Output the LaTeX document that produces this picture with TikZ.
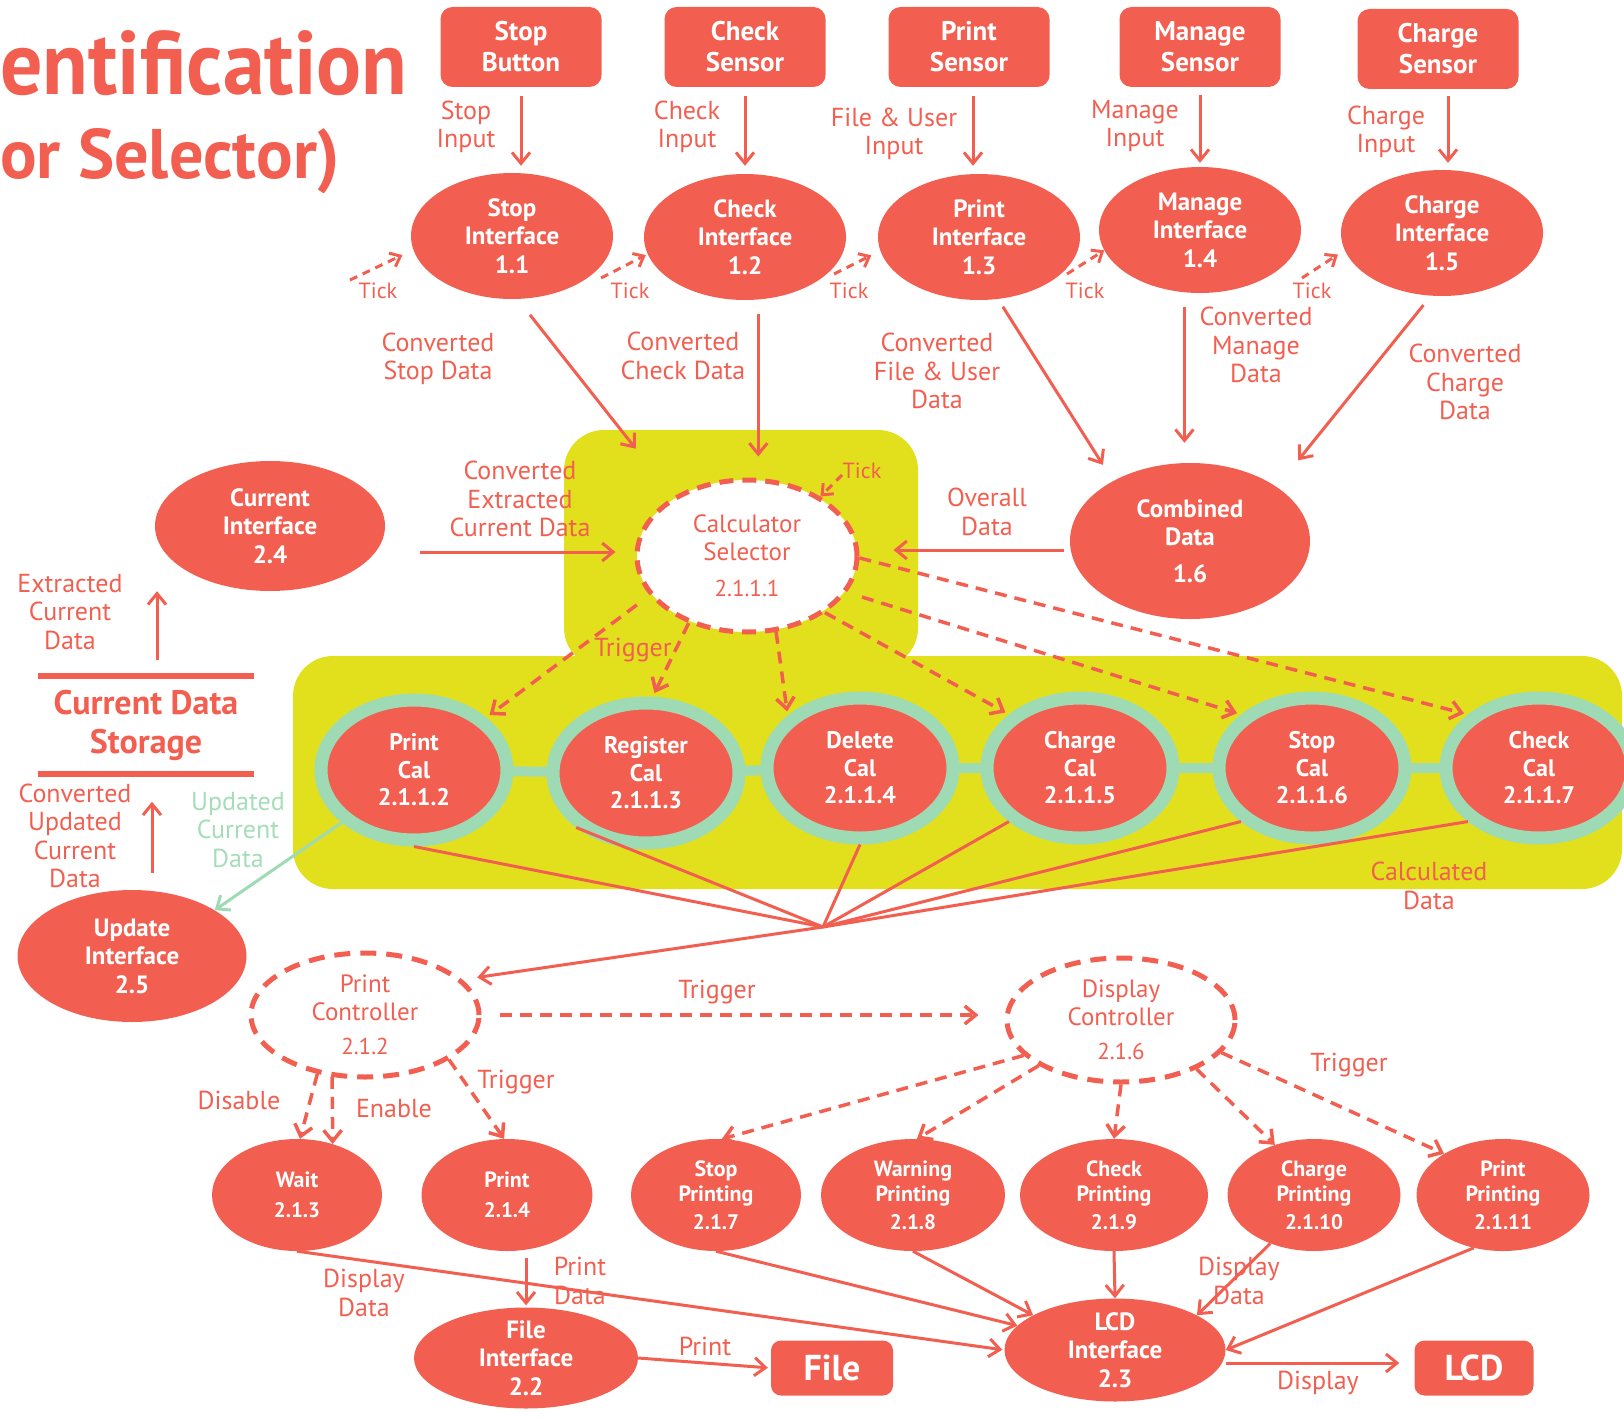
\documentclass[tikz,border=0pt]{standalone}
\usepackage{fontspec}
\setmainfont{PT Sans}
\usepackage{graphicx}
\usetikzlibrary{shapes.geometric,arrows.meta,calc}
\definecolor{coral}{HTML}{F25F50}
\definecolor{ylw}{HTML}{E2E01C}
\definecolor{mint}{HTML}{9EDAB4}
\definecolor{mintt}{HTML}{A5DDB9}
\pgfdeclarelayer{bg}
\pgfsetlayers{bg,main}
\newcommand\numf{\fontsize{21}{22}\selectfont}
\begin{document}
\begin{tikzpicture}[x=1pt,y=-1pt,
  every node/.style={inner sep=0pt, align=center},
  tip/.style={-{Straight Barb[length=11pt,width=18pt]}},
  conn/.style={draw=coral, line width=3pt, tip},
  dconn/.style={conn, line width=3.5pt, dash pattern=on 12pt off 8pt},
  tickarr/.style={draw=coral, line width=3pt, dash pattern=on 8pt off 6pt, -{Straight Barb[length=9pt,width=15pt]}},
  wbox/.style={rectangle, rounded corners=12pt, fill=coral, text=white, font=\fontsize{27}{31}\selectfont\bfseries, minimum width=161pt, minimum height=80pt},
  ell/.style={ellipse, fill=coral, text=white, inner sep=-15pt, font=\fontsize{25}{28.5}\selectfont\bfseries},
  cal/.style={ellipse, fill=coral, draw=mint, line width=13pt, text=white, inner sep=-15pt, minimum width=186pt, minimum height=140pt, font=\fontsize{24}{27.5}\selectfont\bfseries},
  ctl/.style={ellipse, draw=coral, fill=white, line width=5pt, dash pattern=on 16pt off 10pt, inner sep=-15pt, text=coral, font=\fontsize{25}{28}\selectfont},
  sm/.style={ellipse, fill=coral, text=white, inner sep=-15pt, minimum height=112pt, font=\fontsize{22}{25}\selectfont\bfseries},
  lab/.style={text=coral, font=\fontsize{26}{28.5}\selectfont},
  ticklab/.style={text=coral, font=\fontsize{22}{24}\selectfont},
]
\useasboundingbox (0,0) rectangle (1624,1418);

% title
\node[anchor=base west, text=coral] (t1) at (0,95) {\resizebox{407pt}{64pt}{\bfseries entification}};
\node[anchor=base west, text=coral] (t2) at (0,178) {\resizebox{339pt}{50pt}{\bfseries or Selector)}};

% top boxes
\node[wbox] (sb) at (521,47) {Stop\\Button};
\node[wbox] (ks) at (745,47) {Check\\Sensor};
\node[wbox] (ps) at (969,47) {Print\\Sensor};
\node[wbox] (ms) at (1200,47) {Manage\\Sensor};
\node[wbox] (cs) at (1438,49) {Charge\\Sensor};

% interfaces
\node[ell, minimum width=202pt, minimum height=126pt] (i11) at (512,236) {Stop\\Interface\\1.1};
\node[ell, minimum width=202pt, minimum height=126pt] (i12) at (745,237) {Check\\Interface\\1.2};
\node[ell, minimum width=202pt, minimum height=126pt] (i13) at (979,237) {Print\\Interface\\1.3};
\node[ell, minimum width=202pt, minimum height=126pt] (i14) at (1200,230) {Manage\\Interface\\1.4};
\node[ell, minimum width=202pt, minimum height=126pt] (i15) at (1442,233) {Charge\\Interface\\1.5};

\node[ell, minimum width=240pt, minimum height=156pt] (comb) at (1190,541) {Combined\\Data\\[8pt]1.6};
\node[ell, minimum width=230pt, minimum height=130pt] (ci) at (270,526) {Current\\Interface\\2.4};
\node[ell, minimum width=229pt, minimum height=132pt] (ui) at (132,956) {Update\\Interface\\2.5};

\node[ellipse, draw=coral, fill=white, line width=5pt, dash pattern=on 14pt off 9pt, minimum width=220pt, minimum height=152pt, inner sep=-15pt, text=coral, font=\fontsize{25}{28}\selectfont] (sel) at (747,556) {Calculator\\Selector\\[8pt]{\fontsize{23}{23}\selectfont 2.1.1.1}};

% cal nodes
\node[cal] (pc) at (414,770) {Print\\Cal\\2.1.1.2};
\node[cal] (rc) at (646,773) {Register\\Cal\\2.1.1.3};
\node[cal] (dc) at (860,768) {Delete\\Cal\\2.1.1.4};
\node[cal] (chc) at (1080,768) {Charge\\Cal\\2.1.1.5};
\node[cal] (sc) at (1312,768) {Stop\\Cal\\2.1.1.6};
\node[cal] (kc) at (1539,768) {Check\\Cal\\2.1.1.7};

% storage
\node[text=coral, font=\fontsize{34}{39}\selectfont\bfseries, minimum width=215pt, minimum height=97pt] (cds) at (146,725) {Current Data\\Storage};
\draw[coral, line width=6pt] (cds.north west) -- (cds.north east) (cds.south west) -- (cds.south east);

% controllers
\node[ctl, minimum width=228pt, minimum height=124pt] (prc) at (365,1015) {Print\\Controller\\[6pt]{\fontsize{23}{23}\selectfont 2.1.2}};
\node[ctl, minimum width=228pt, minimum height=124pt] (dic) at (1121,1020) {Display\\Controller\\[6pt]{\fontsize{23}{23}\selectfont 2.1.6}};

% small nodes
\node[sm, minimum width=170pt] (wt) at (297,1195) {Wait\\[5pt]\numf 2.1.3};
\node[sm, minimum width=171pt] (pr) at (507,1195) {Print\\[5pt]\numf 2.1.4};
\node[sm, minimum width=170pt] (sp) at (716,1195) {Stop\\Printing\\[3pt]\numf 2.1.7};
\node[sm, minimum width=184pt] (wp) at (913,1195) {Warning\\Printing\\[3pt]\numf 2.1.8};
\node[sm, minimum width=188pt] (cp) at (1114,1195) {Check\\Printing\\[3pt]\numf 2.1.9};
\node[sm, minimum width=173pt] (chp) at (1314,1195) {Charge\\Printing\\[3pt]\numf 2.1.10};
\node[sm, minimum width=173pt] (pp) at (1503,1195) {Print\\Printing\\[3pt]\numf 2.1.11};

\node[ell, minimum width=221pt, minimum height=103pt] (lcd) at (1115,1350) {LCD\\Interface\\2.3};
\node[ell, minimum width=224pt, minimum height=101pt] (fi) at (526,1358) {File\\Interface\\2.2};
\node[rectangle, rounded corners=10pt, fill=coral, text=white, font=\fontsize{36}{40}\selectfont\bfseries, minimum width=122pt, minimum height=55pt] (file) at (832,1368) {File};
\node[rectangle, rounded corners=10pt, fill=coral, text=white, font=\fontsize{36}{40}\selectfont\bfseries, minimum width=119pt, minimum height=55pt] (lcdb) at (1474,1368) {LCD};

% backgrounds
\begin{pgfonlayer}{bg}
\fill[ylw, rounded corners=40pt] (564,430) rectangle (918,668);
\fill[ylw, rounded corners=40pt] (293,656) rectangle (1622,889);
\draw[mint, line width=10pt] (pc.center) -- (rc.center) -- (dc.center) -- (chc.center) -- (sc.center) -- (kc.center);
\end{pgfonlayer}

% labels
\node[lab] (l1) at (466,127) {Stop\\Input};
\node[lab] (l2) at (687,127) {Check\\Input};
\node[lab] (l3) at (894,134) {File \& User\\Input};
\node[lab] (l4) at (1135,126) {Manage\\Input};
\node[lab] (l5) at (1386,132) {Charge\\Input};
\node[lab] (l6) at (438,359) {Converted\\Stop Data};
\node[lab] (l7) at (683,356) {Converted\\Check Data};
\node[lab] (l8) at (937,371) {Converted\\File \& User\\Data};
\node[lab] (l9) at (1256,345) {Converted\\Manage\\Data};
\node[lab] (l10) at (1465,382) {Converted\\Charge\\Data};
\node[lab] (l11) at (520,499) {Converted\\Extracted\\Current Data};
\node[lab] (l12) at (987,512) {Overall\\Data};
\node[lab] (l13) at (633,650) {Trigger};
\node[lab] (l14) at (70,612) {Extracted\\Current\\Data};
\node[lab] (l15) at (75,836) {Converted\\Updated\\Current\\Data};
\node[lab, text=mintt] (l16) at (238,830) {Updated\\Current\\Data};
\node[lab] (l17) at (1429,886) {Calculated\\Data};
\node[lab] (l18) at (717,992) {Trigger};
\node[lab] (l19) at (239,1100) {Disable};
\node[lab] (l20) at (394,1109) {Enable};
\node[lab] (l21) at (516,1082) {Trigger};
\node[lab] (l22) at (1349,1065) {Trigger};
\node[lab] (l23) at (364,1293) {Display\\Data};
\node[lab] (l24) at (580,1281) {Print\\Data};
\node[lab] (l25) at (1239,1281) {Display\\Data};
\node[lab] (l26) at (705,1346) {Print};
\node[lab] (l27) at (1318,1383) {Display};
\node[ticklab] (k1) at (378,291) {Tick};
\node[ticklab] (k2) at (630,291) {Tick};
\node[ticklab] (k3) at (849,291) {Tick};
\node[ticklab] (k4) at (1085,291) {Tick};
\node[ticklab] (k5) at (1312,291) {Tick};
\node[ticklab] (k6) at (862,471) {Tick};

% top verticals
\draw[conn, shorten <=9pt, shorten >=7pt] (sb.south) -- (sb.south |- i11.north);
\draw[conn, shorten <=9pt, shorten >=8pt] (ks.south) -- (ks.south |- i12.north);
\draw[conn, shorten <=9pt, shorten >=8pt] ($(ps.south)+(4,0)$) -- ($(ps.south |- i13.north)+(4,0)$);
\draw[conn, shorten <=8pt, shorten >=4pt] (ms.south) -- (ms.south |- i14.north);
\draw[conn, shorten <=7pt, shorten >=7pt] ($(cs.south)+(10,0)$) -- ($(cs.south |- i15.north)+(10,0)$);

% ticks
\coordinate (tk1) at (350,280);
\coordinate (tk2) at (601,278);
\coordinate (tk3) at (834,274);
\coordinate (tk4) at (1067,274);
\coordinate (tk5) at (1302,278);
\coordinate (tk6) at (842,475);
\draw[tickarr, shorten >=12pt] (tk1) -- (i11.188);
\draw[tickarr, shorten >=2pt] (tk2) -- (i12.190);
\draw[tickarr, shorten >=10pt] (tk3) -- (i13.188);
\draw[tickarr] (tk4) -- (i14.192.6);
\draw[tickarr, shorten >=8pt] (tk5) -- (i15.190.5);
\draw[tickarr] (tk6) -- (sel.39.5);

% interfaces to selector / combined
\draw[conn, shorten <=20pt, shorten >=61pt] (i11.-85) -- (sel.141);
\draw[conn, shorten <=14pt, shorten >=21pt] (i12.-78) -- (i12.-78 |- sel.north);
\draw[conn, shorten <=9pt, shorten >=19pt] (i13.-73.5) -- (comb.142);
\draw[conn, shorten <=15pt, shorten >=20pt] (i14.-104) -- (i14.-104 |- comb.north);
\draw[conn, shorten <=12pt, shorten >=34pt] (i15.-100) -- (comb.32);
\draw[conn, shorten <=35pt, shorten >=19pt] ($(ci.east |- sel.west)+(0,-4)$) -- ($(sel.west)+(0,-4)$);
\draw[conn, shorten <=6pt, shorten >=34pt] ($(comb.west |- sel.east)+(0,-6)$) -- ($(sel.east)+(0,-6)$);

% selector to cals
\draw[dconn, shorten <=16pt, shorten >=4pt] (sel.202) -- (pc.36);
\draw[dconn, shorten >=4pt] (sel.229) -- (rc.85);
\draw[dconn, shorten >=4pt] (sel.-69) -- (dc.144);
\draw[dconn, shorten >=4pt] (sel.-36) -- (chc.143);
\draw[dconn, shorten <=16pt, shorten >=4pt] (sel.-20.7) -- (sc.143);
\draw[dconn, shorten >=4pt] (sel.-1.5) -- (kc.143);

% cals to junction
\coordinate (J) at (823,927);
\draw[coral, line width=3pt] (pc.south) -- (J);
\draw[coral, line width=3pt] (rc.218) -- (J);
\draw[coral, line width=3pt] (dc.south) -- (J);
\draw[coral, line width=3pt] (chc.217) -- (J);
\draw[coral, line width=3pt] (sc.217) -- (J);
\draw[coral, line width=3pt] (kc.217) -- (J);
\draw[conn, shorten >=15pt] (J) -- (prc.20.8);

% mint arrow
\draw[mint, line width=3pt, tip] (pc.216) -- (ui.29.5);

% storage arrows
\draw[conn, shorten <=16pt] ($(cds.north)+(11,0)$) -- ($(cds.north |- ci.south)+(11,0)$);
\draw[conn, shorten <=17pt, shorten >=28pt] ($(cds.south |- ui.north)+(6,0)$) -- ($(cds.south)+(6,0)$);

% controllers
\draw[dconn, shorten <=18pt, shorten >=26pt] (prc.east) -- (prc.east -| dic.west);
\draw[dconn] (prc.-129.7) -- (wt.87);
\draw[dconn] (prc.-118) -- (wt.55.5);
\draw[dconn] (prc.-28.8) -- (pr.93);
\draw[dconn] (dic.200.6) -- (sp.84);
\draw[dconn] (dic.209.8) -- (wp.86);
\draw[dconn] (dic.south) -- (cp.north);
\draw[dconn] (dic.-33) -- (chp.128);
\draw[dconn] (dic.-18.4) -- (pp.145.5);

% to LCD
\draw[conn, shorten >=2pt] (wt.south) -- (lcd.west);
\draw[conn] (sp.south) -- (lcd.166);
\draw[conn] (wp.south) -- (lcd.157.3);
\draw[conn] (cp.south) -- (lcd.north);
\draw[conn] (chp.228) -- (lcd.23.8);
\draw[conn] (pp.241.8) -- (lcd.east);

% file / lcd outputs
\draw[conn, shorten <=7pt, shorten >=2pt] (fi.north |- pr.south) -- (fi.north);
\draw[conn, shorten >=3pt] (fi.east) -- (file.west);
\draw[conn, shorten >=15pt] ($(lcd.east)+(0,13)$) -- ($(lcd.east -| lcdb.west)+(0,13)$);
\end{tikzpicture}
\end{document}
